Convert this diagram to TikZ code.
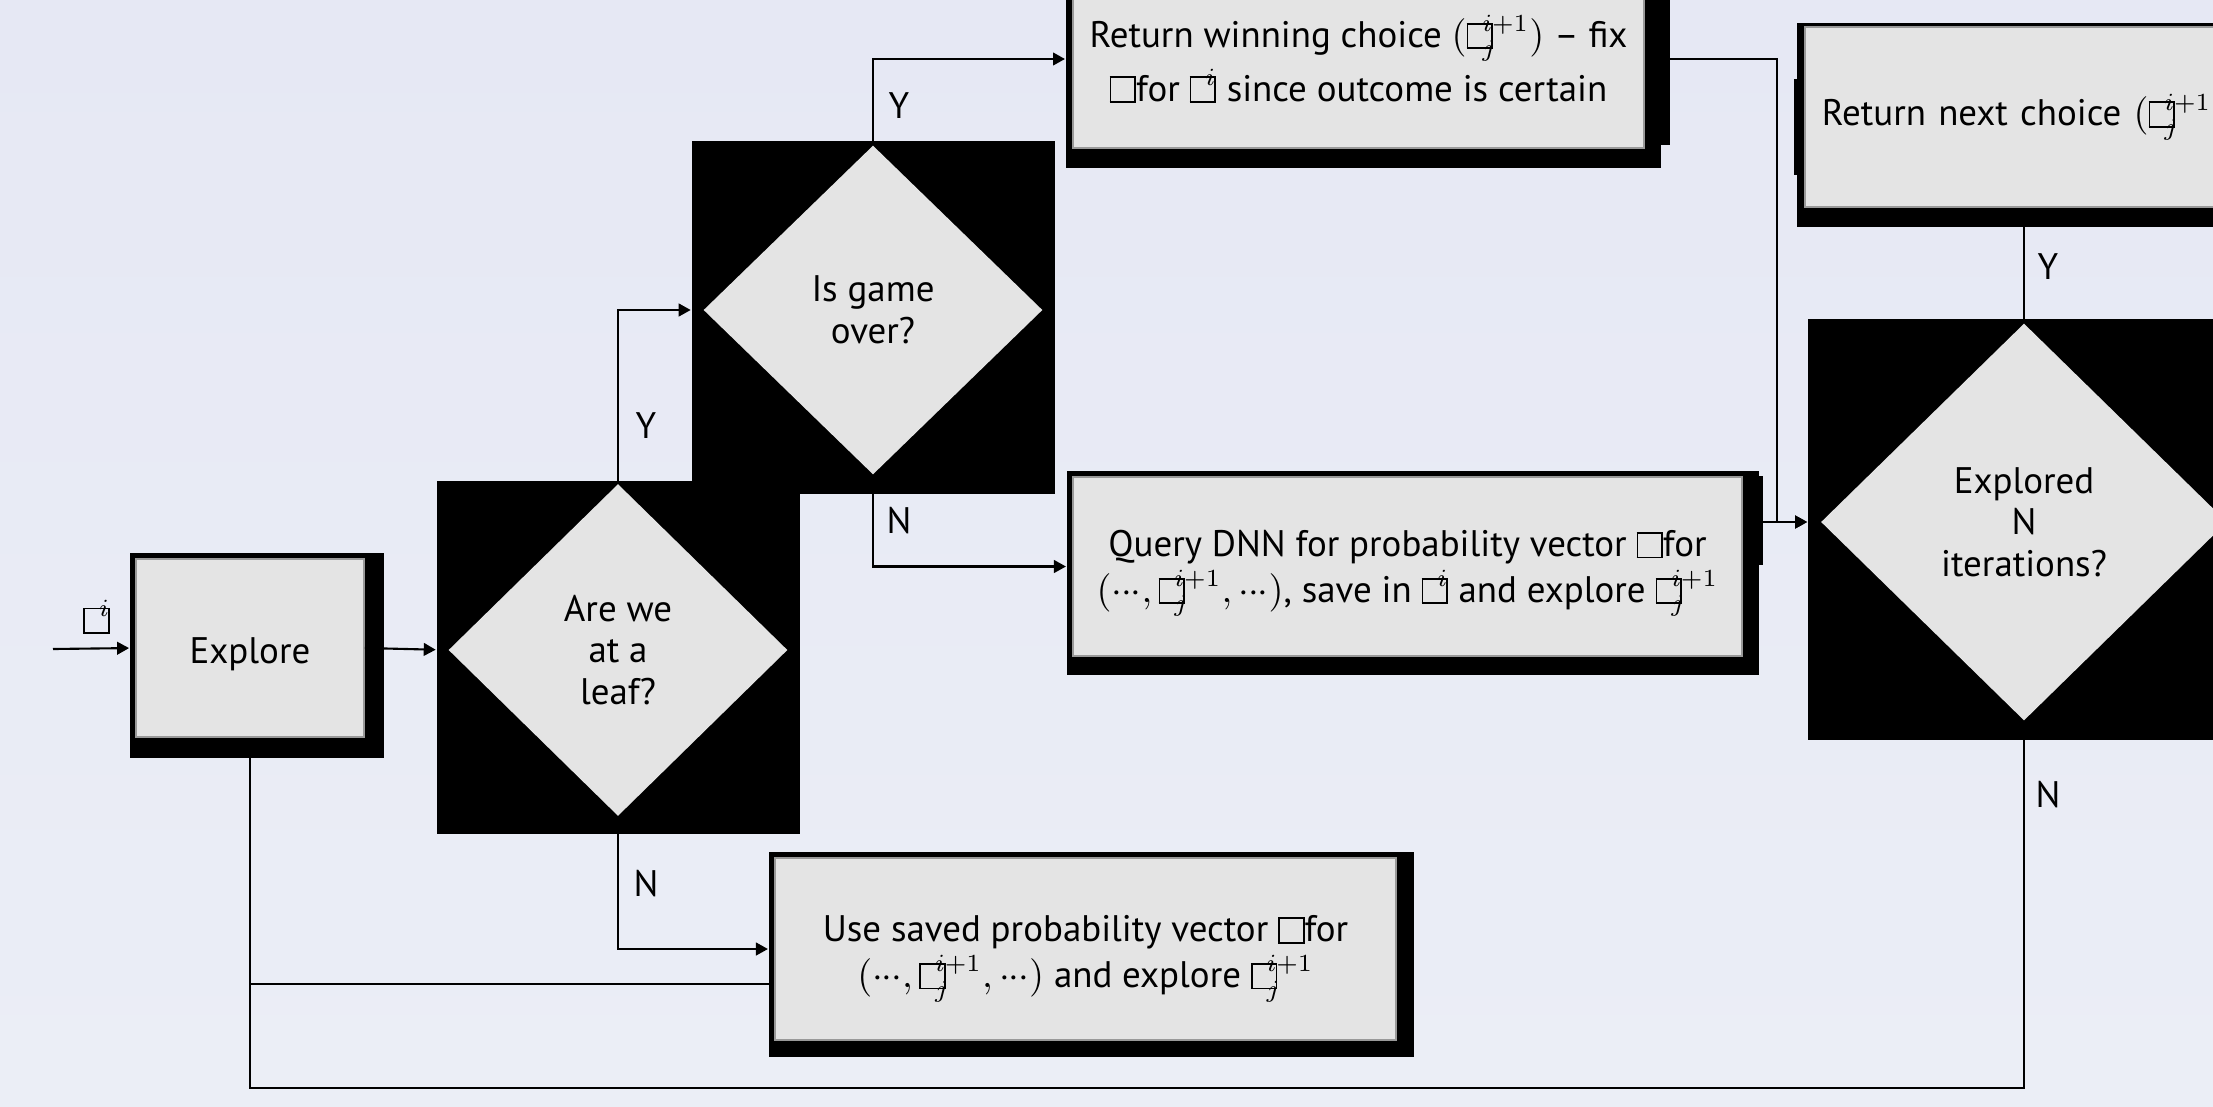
\documentclass[tikz,border=0pt]{standalone}
\usepackage{fontspec}
\setmainfont{PT Sans}
\usetikzlibrary{shapes.geometric,arrows.meta}
\definecolor{bgtop}{HTML}{E6E8F4}
\definecolor{bgbot}{HTML}{EBEEF6}
\definecolor{boxgray}{HTML}{E4E4E4}
\newcommand\tofu{{\setlength\fboxsep{0pt}\setlength\fboxrule{0.5pt}\fbox{\rule{0pt}{0.62em}\hspace{0.62em}}}}
\newcommand\tv{\mathord{\rlap{\tofu}\kern0.42em}}
\newcommand\dts{\mathord{\cdot}\mkern-0.5mu\mathord{\cdot}\mkern-0.5mu\mathord{\cdot}}
\newcommand\strt[1]{\rule{0pt}{#1}}
\tikzset{
  boxnode/.style={rectangle, draw=black!40, line width=0.5pt, fill=boxgray, inner sep=0pt,
    align=center, font=\fontsize{10.5pt}{13pt}\selectfont},
  decision/.style={diamond, fill=boxgray, inner sep=0pt, align=center,
    font=\fontsize{10.5pt}{11.8pt}\selectfont},
  shadowfill/.style={fill=black},
  conn/.style={line width=0.6pt, draw=black},
  arr/.style={conn, -{Triangle[length=3.4pt,width=3.6pt]}},
  lab/.style={inner sep=0pt, font=\fontsize{10.5pt}{12pt}\selectfont},
}
\begin{document}
\begin{tikzpicture}[x=0.01cm,y=-0.01cm]
\useasboundingbox (0,0) rectangle (2213,1106);
\clip (0,0) rectangle (2213,1106);
\fill[top color=bgtop, bottom color=bgbot] (0,0) rectangle (2213,1106);

% black backings
\fill[shadowfill] (130,553) rectangle (384,758);
\fill[shadowfill] (437,481) rectangle (800,834);
\fill[shadowfill] (692,141) rectangle (1055,494);
\fill[shadowfill] (1066,-40) rectangle (1661,168);
\fill[shadowfill] (1661,-40) rectangle (1670,145);
\fill[shadowfill] (1067,471) rectangle (1759,675);
\fill[shadowfill] (1759,476) rectangle (1763,565);
\fill[shadowfill] (769,852) rectangle (1414,1057);
\fill[shadowfill] (1808,319) rectangle (2240,740);
\fill[shadowfill] (1797,23) rectangle (2300,227);
\fill[shadowfill] (1794,79) rectangle (1800,175);

% nodes
\node[boxnode, minimum width=2.28cm, minimum height=1.78cm, text depth=0pt, text height=8.6pt] (explore) at (250,648) {Explore};
\node[decision, minimum width=3.39cm, minimum height=3.32cm] (leaf) at (618,650) {Are we\\at a\\leaf?};
\node[decision, minimum width=3.39cm, minimum height=3.29cm] (game) at (873,310) {Is game\\over?};
\node[boxnode, minimum width=5.71cm, minimum height=1.78cm] (winning) at (1358.5,59)
  {\strt{9pt}Return winning choice $\bigl(\tv^{i+1}_j\bigr)$ – fix\\[1pt]\tofu for $\tv^{i}$ since outcome is certain};
\node[boxnode, minimum width=6.69cm, minimum height=1.79cm] (query) at (1407.5,566.5)
  {\strt{11.5pt}Query DNN for probability vector \tofu for\\$\bigl(\dts,\tv^{i+1}_j,\dts\bigr)$, save in $\tv^{i}$ and explore $\tv^{i+1}_j$};
\node[boxnode, minimum width=6.21cm, minimum height=1.82cm] (usesaved) at (1085.5,949)
  {\strt{13pt}Use saved probability vector \tofu for\\$\bigl(\dts,\tv^{i+1}_j,\dts\bigr)$ and explore $\tv^{i+1}_j$};
\node[decision, minimum width=4.06cm, minimum height=3.97cm] (explored) at (2024,522) {Explored\\N\\iterations?};
\node[boxnode, text width=5.61cm, inner xsep=0.17cm, align=left, minimum height=1.80cm] (retnext) at (2102.5,117)
  {Return next choice $\bigl(\tv^{i+1}_j\bigr)$};

% connectors
\coordinate (inp) at (53,649);
\draw[arr, shorten >=0.06cm] (inp) -- (explore.west);
\node[lab] (inlab) at (97,617) {$\tv^{i}$};
\draw[arr, shorten >=0.12cm] (explore.east) -- (leaf.west);
\draw[arr, shorten >=0.12cm] (leaf.north) |- (game.west);
\node[lab] (ly1) at (646,426) {Y};
\draw[arr, shorten >=0.06cm] (leaf.south) |- (usesaved.west);
\node[lab] (ln1) at (646,884) {N};
\draw[arr, shorten >=0.07cm] (game.north) |- (winning.west);
\node[lab] (ly2) at (899,106) {Y};
\draw[arr, shorten >=0.06cm] (game.south) |- (query.west);
\node[lab] (ln2) at (899,521) {N};
\coordinate (jn) at (1777,522);
\draw[conn] (winning.east) -| (jn);
\draw[arr, shorten >=0.13cm] (jn) -- (explored.west);
\draw[arr, shorten >=0.13cm] (query.east |- explored.west) -- (explored.west);
\draw[conn] (explored.north) -- (explored.north |- retnext.south);
\node[lab] (ly3) at (2048,267) {Y};
\coordinate (lbr) at (2024,1088);
\draw[conn] (explored.south) -- (lbr) -| (explore.south);
\node[lab] (ln3) at (2048,795) {N};
\draw[conn] ([yshift=-0.35cm]usesaved.west) -- ([yshift=-0.35cm]usesaved.west -| explore.south);
\end{tikzpicture}
\end{document}
